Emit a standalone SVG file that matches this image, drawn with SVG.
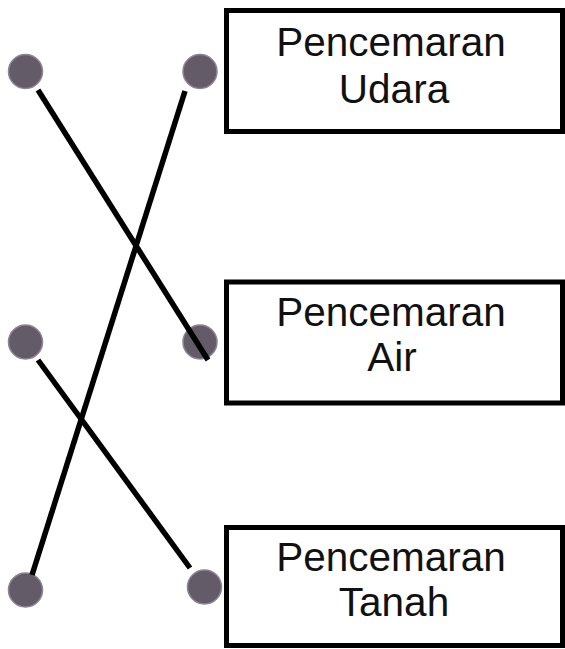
<svg xmlns="http://www.w3.org/2000/svg" width="565" height="649" viewBox="0 0 565 649">
<style>
.box{fill:#fff;stroke:#000;stroke-width:5}
.lbl{font-family:"Liberation Sans",Arial,sans-serif;font-size:40.5px;fill:#111;text-anchor:middle}
.dot{fill:#645b68;stroke:#8d8592;stroke-width:1.5}
.con{stroke:#000;stroke-width:5.5;fill:none}
</style>
<rect width="565" height="649" fill="#fff"/>
<g id="box-udara">
<rect class="box" x="226.5" y="10.5" width="336" height="121"/>
<text class="lbl" x="391" y="56">Pencemaran</text>
<text class="lbl" x="394" y="103">Udara</text>
</g>
<g id="box-air">
<rect class="box" x="226.5" y="282" width="336" height="121"/>
<text class="lbl" x="391" y="326">Pencemaran</text>
<text class="lbl" x="392" y="371">Air</text>
</g>
<g id="box-tanah">
<rect class="box" x="226.5" y="527.5" width="336" height="118"/>
<text class="lbl" x="391" y="571">Pencemaran</text>
<text class="lbl" x="394" y="616">Tanah</text>
</g>
<g id="dots-left">
<circle class="dot" cx="25.5" cy="71.5" r="17"/>
<circle class="dot" cx="25.5" cy="342" r="17"/>
<circle class="dot" cx="25.5" cy="590" r="17"/>
</g>
<g id="dots-right">
<circle class="dot" cx="200" cy="71.5" r="17"/>
<circle class="dot" cx="200" cy="342" r="17"/>
<circle class="dot" cx="204.5" cy="587" r="17"/>
</g>
<g id="connectors">
<line class="con" x1="38" y1="90" x2="208" y2="360"/>
<line class="con" x1="185" y1="91" x2="32" y2="575"/>
<line class="con" x1="38" y1="360" x2="190" y2="568"/>
</g>
</svg>
